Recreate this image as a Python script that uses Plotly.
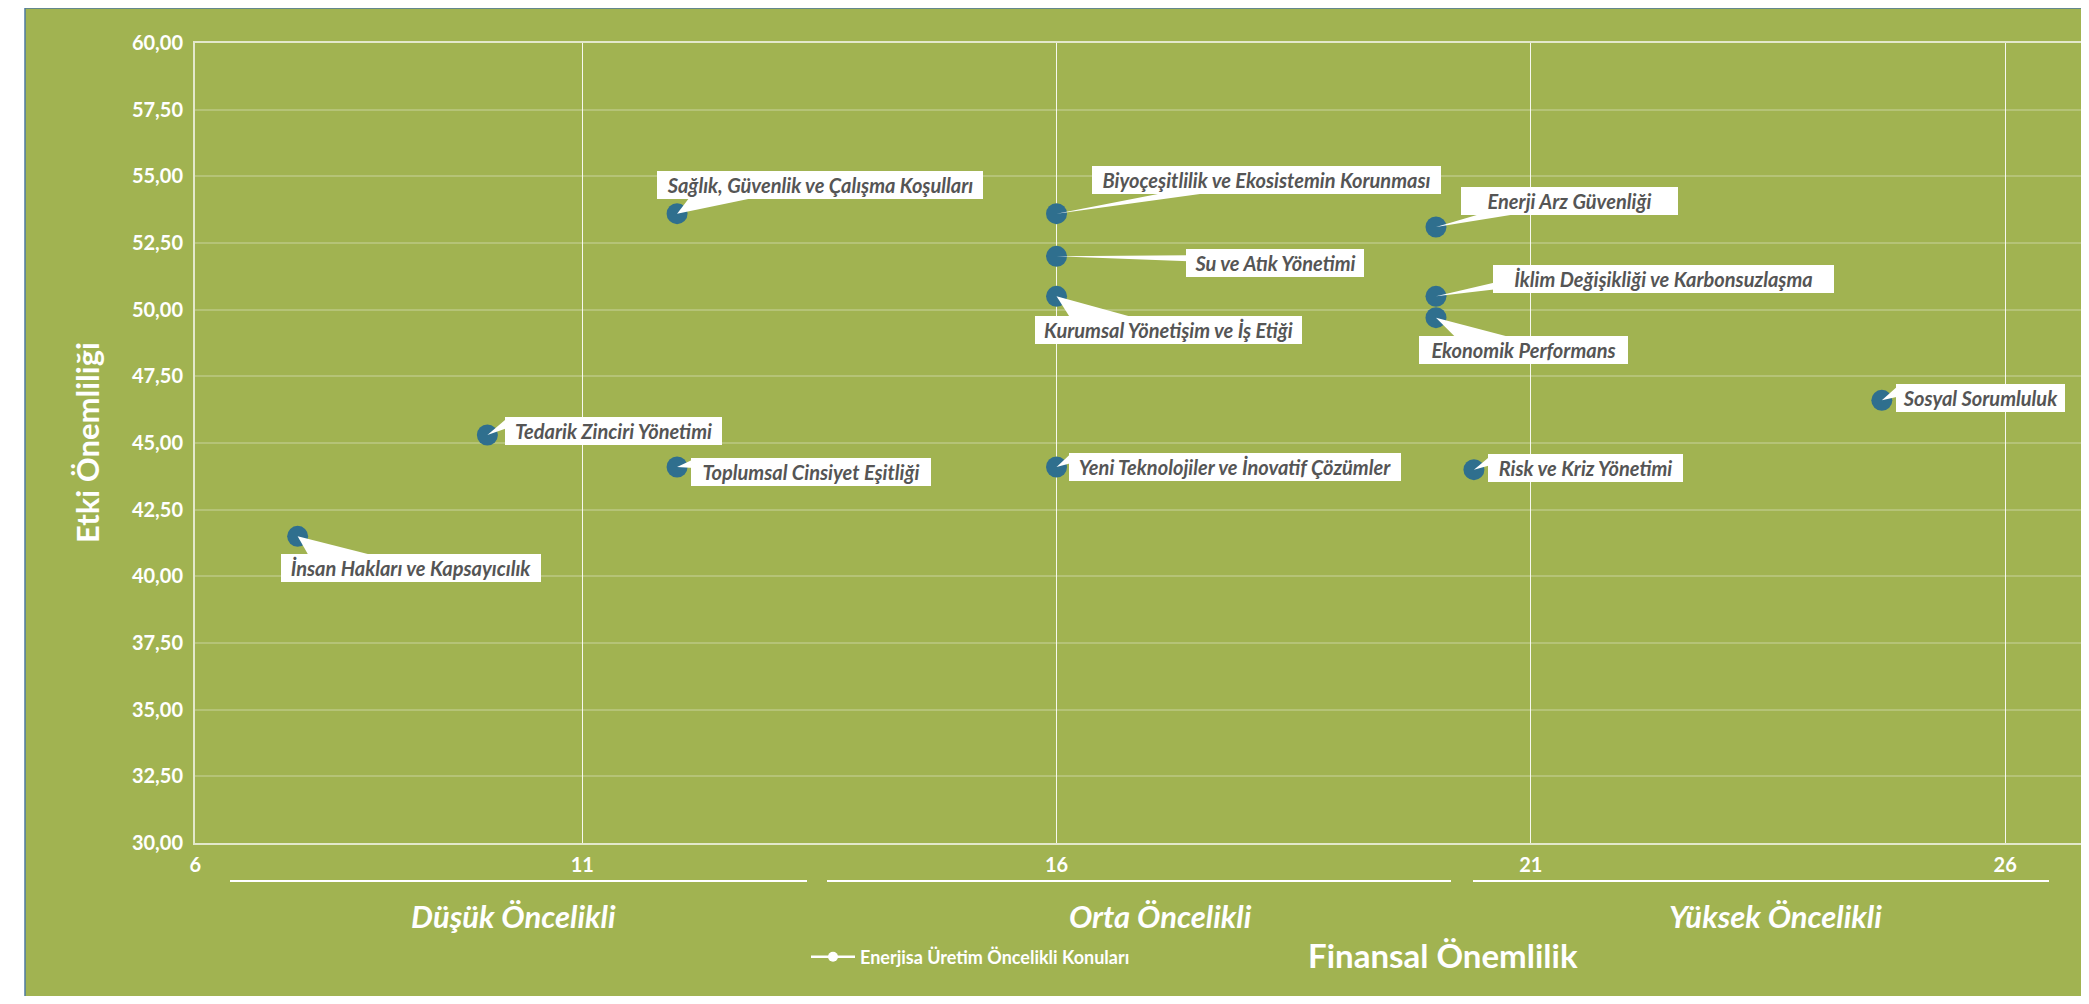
import plotly.graph_objects as go

# ---------------- data ----------------
topics = [
    "Sağlık, Güvenlik ve Çalışma Koşulları",
    "Biyoçeşitlilik ve Ekosistemin Korunması",
    "Su ve Atık Yönetimi",
    "Kurumsal Yönetişim ve İş Etiği",
    "Enerji Arz Güvenliği",
    "İklim Değişikliği ve Karbonsuzlaşma",
    "Ekonomik Performans",
    "Sosyal Sorumluluk",
    "Risk ve Kriz Yönetimi",
    "Yeni Teknolojiler ve İnovatif Çözümler",
    "Tedarik Zinciri Yönetimi",
    "Toplumsal Cinsiyet Eşitliği",
    "İnsan Hakları ve Kapsayıcılık",
]
financial = [12, 16, 16, 16, 20, 20, 20, 24.7, 20.4, 16, 10, 12, 8]
impact = [53.6, 53.6, 52.0, 50.5, 53.1, 50.5, 49.7, 46.6, 44.0, 44.1, 45.3, 44.1, 41.5]

x_tickvals = [6.92, 11, 16, 21, 26]
x_ticktext = ["6", "11", "16", "21", "26"]
y_tickvals = [30, 32.5, 35, 37.5, 40, 42.5, 45, 47.5, 50, 52.5, 55, 57.5, 60]
priority_labels = ["Düşük Öncelikli", "Orta Öncelikli", "Yüksek Öncelikli"]
series_name = "Enerjisa Üretim Öncelikli Konuları"
x_title = "Finansal Önemlilik"
y_title = "Etki Önemliliği"

# ---------------- layout / style ----------------
OFF = 8                      # page body margin
PAGE_W, PAGE_H = 2089, 1004
W, H = PAGE_W - OFF, PAGE_H - 2 * OFF
PLOT_L, PLOT_T, PLOT_B = 195, 43, 843          # page coords
PW, PH = PAGE_W - PLOT_L, PLOT_B - PLOT_T
L, T = PLOT_L - OFF, PLOT_T - OFF
B = H - (PLOT_B - OFF)
R = W - L - PW
GREEN = "#A1B351"
BLUE = "#2F6F8E"
LABEL_GRAY = "#555555"
FONT = "Lato"


def px(xp):
    return (xp - PLOT_L) / PW


def py(yp):
    return (PLOT_B - yp) / PH


# label box: center offset (dx, dy screen px), width; tail base points (screen px, y down)
label_style = [
    dict(dx=143, dy=-28.5, w=326, tail=[(13, -17), (82, -17)]),
    dict(dx=210, dy=-34, w=349, tail=[(118, -23), (167, -23)]),
    dict(dx=218, dy=7, w=178, tail=[(132, -1), (132, 5)]),
    dict(dx=112, dy=33.5, w=267, tail=[(14, 22), (80, 22)]),
    dict(dx=134, dy=-26, w=217, tail=[(51, -15), (93, -15)]),
    dict(dx=228, dy=-17, w=341, tail=[(60, -14), (60, -7)]),
    dict(dx=88, dy=32.7, w=209, tail=[(22, 22), (84, 22)]),
    dict(dx=99, dy=-2.5, w=169, tail=[(18, -16), (18, -4)]),
    dict(dx=112, dy=-1.5, w=195, tail=[(18, -15), (18, -5)]),
    dict(dx=178, dy=0, w=332, tail=[(15, -14), (15, -4)]),
    dict(dx=126, dy=-4, w=217, tail=[(20, -17), (20, -7)]),
    dict(dx=134, dy=5, w=240, tail=[(17, -8), (17, 1)]),
    dict(dx=113, dy=32, w=260, tail=[(12, 21), (83, 21)]),
]
BOX_H = 28

fig = go.Figure()

fig.add_trace(go.Scatter(
    x=financial, y=impact, mode="markers", showlegend=False,
    marker=dict(size=21, color=BLUE, line=dict(width=0)),
    hovertext=topics, hoverinfo="text",
))
# legend entry
fig.add_trace(go.Scatter(
    x=[None], y=[None], mode="lines+markers", name=series_name,
    line=dict(color="white", width=2.5), marker=dict(color="white", size=10),
))

shapes = []
# green panel
shapes.append(dict(type="rect", xref="paper", yref="paper",
                   x0=px(25), x1=px(PAGE_W + 30), y0=py(1010), y1=py(8),
                   fillcolor=GREEN, line=dict(color="#4F7BA0", width=1.5), layer="below"))
# priority separator lines
for a, b in [(230, 807), (827, 1451), (1473, 2049)]:
    shapes.append(dict(type="line", xref="paper", yref="paper",
                       x0=px(a), x1=px(b), y0=py(881), y1=py(881),
                       line=dict(color="white", width=2)))
# callout tails
for xv, yv, st in zip(financial, impact, label_style):
    (a1, b1), (a2, b2) = st["tail"]
    shapes.append(dict(type="path", xref="x", yref="y",
                       xsizemode="pixel", ysizemode="pixel",
                       xanchor=xv, yanchor=yv,
                       path=f"M 0,0 L {a1},{-b1} L {a2},{-b2} Z",
                       fillcolor="white", line=dict(width=0, color="rgba(0,0,0,0)"),
                       layer="above"))

annotations = []
for xv, yv, t, st in zip(financial, impact, topics, label_style):
    annotations.append(dict(
        x=xv, y=yv, xref="x", yref="y", showarrow=False,
        xshift=st["dx"], yshift=-st["dy"], xanchor="center", yanchor="middle",
        text=f"<b><i>{t}</i></b>", bgcolor="white", width=st["w"], height=BOX_H,
        borderpad=0, borderwidth=0, align="center",
        font=dict(family=FONT, size=20, color=LABEL_GRAY),
    ))

for lab, xc in zip(priority_labels, [513, 1160, 1775]):
    annotations.append(dict(
        x=px(xc), y=py(916), xref="paper", yref="paper", showarrow=False,
        xanchor="center", yanchor="middle", text=f"<b><i>{lab}</i></b>",
        font=dict(family=FONT, size=31, color="white"),
    ))

annotations.append(dict(
    x=px(1443), y=py(955), xref="paper", yref="paper", showarrow=False,
    xanchor="center", yanchor="middle", text=f"<b>{x_title}</b>",
    font=dict(family=FONT, size=33, color="white"),
))
annotations.append(dict(
    x=px(87), y=py(443), xref="paper", yref="paper", showarrow=False,
    xanchor="center", yanchor="middle", text=f"<b>{y_title}</b>", textangle=-90,
    font=dict(family=FONT, size=31, color="white"),
))

fig.update_layout(
    width=W, height=H,
    margin=dict(l=L, r=R, t=T, b=B, pad=0),
    paper_bgcolor="white", plot_bgcolor="rgba(0,0,0,0)",
    separators=",.",
    font=dict(family=FONT, color="white"),
    shapes=shapes, annotations=annotations,
    showlegend=True,
    legend=dict(x=px(806), y=py(957), xanchor="left", yanchor="middle",
                bgcolor="rgba(0,0,0,0)",
                font=dict(family=FONT, size=18, color="white", weight="bold"),
                itemwidth=44),
    xaxis=dict(
        range=[6.918, 26.884], tickmode="array", tickvals=x_tickvals, ticktext=x_ticktext,
        showgrid=True, gridcolor="rgba(255,255,255,0.9)", gridwidth=1,
        showline=True, linecolor="rgba(255,255,255,0.7)", linewidth=2, mirror=True,
        zeroline=False, ticks="", ticklabelstandoff=3,
        tickfont=dict(family=FONT, size=20, color="white", weight="bold"),
    ),
    yaxis=dict(
        range=[30, 60], tickmode="array", tickvals=y_tickvals, tickformat=".2f",
        showgrid=True, gridcolor="rgba(255,255,255,0.22)", gridwidth=1.5,
        showline=True, linecolor="rgba(255,255,255,0.7)", linewidth=2,
        zeroline=False, ticks="", ticklabelstandoff=6,
        tickfont=dict(family=FONT, size=20, color="white", weight="bold"),
    ),
)

fig.write_html("out.html")
